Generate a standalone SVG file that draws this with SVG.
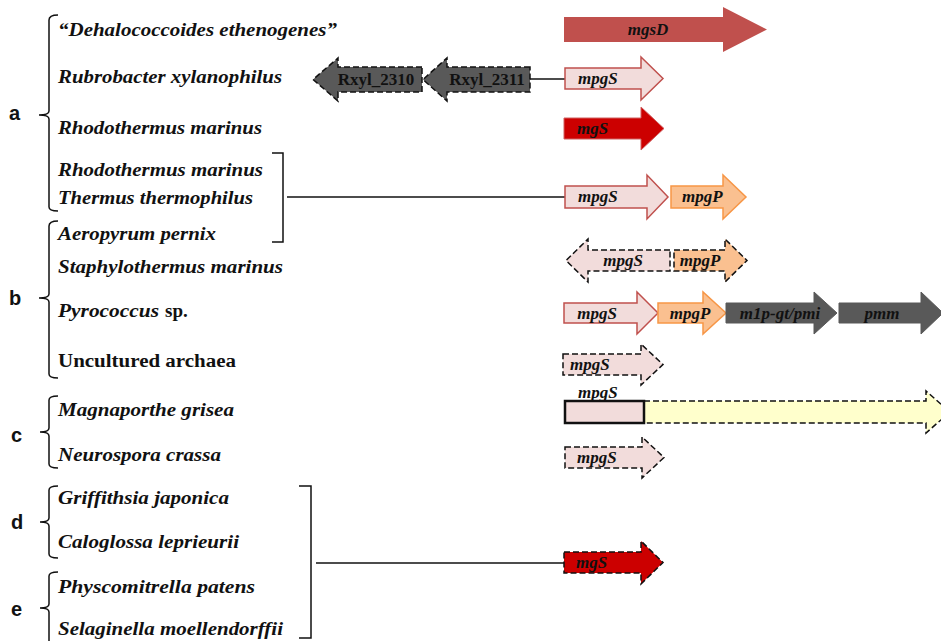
<svg xmlns="http://www.w3.org/2000/svg" width="941" height="641" viewBox="0 0 941 641">
<style>
.sp{font-family:"Liberation Serif",serif;font-weight:bold;font-style:italic;font-size:18px;fill:#111}
.up{font-style:normal}
.lt{font-family:"Liberation Sans",Arial,sans-serif;font-weight:bold;font-size:20px;fill:#111}
.gn{font-family:"Liberation Serif",serif;font-weight:bold;font-style:italic;font-size:17px;fill:#111}
.gr{font-family:"Liberation Serif",serif;font-weight:bold;font-size:17px;fill:#111}
.br{fill:none;stroke:#111;stroke-width:1.5}
.ln{stroke:#111;stroke-width:1.5}
.pink{fill:#f2dcdb;stroke:#c0504d;stroke-width:1.5}
.org{fill:#fac090;stroke:#f79646;stroke-width:1.5}
.dk{fill:#595959;stroke:#595959;stroke-width:1}
.dash{stroke:#111;stroke-width:1.5;stroke-dasharray:6 3}
</style>
<rect width="941" height="641" fill="#fff"/>
<g id="labels">
<text class="lt" x="9" y="120">a</text>
<text class="lt" x="9" y="305">b</text>
<text class="lt" x="11" y="442">c</text>
<text class="lt" x="11" y="529">d</text>
<text class="lt" x="11" y="616">e</text>
</g>
<g id="species">
<text class="sp" x="58" y="36" textLength="279" lengthAdjust="spacingAndGlyphs">“Dehalococcoides ethenogenes”</text>
<text class="sp" x="58" y="83" textLength="224" lengthAdjust="spacingAndGlyphs">Rubrobacter xylanophilus</text>
<text class="sp" x="58" y="134" textLength="204" lengthAdjust="spacingAndGlyphs">Rhodothermus marinus</text>
<text class="sp" x="58" y="176" textLength="205" lengthAdjust="spacingAndGlyphs">Rhodothermus marinus</text>
<text class="sp" x="58" y="204" textLength="195" lengthAdjust="spacingAndGlyphs">Thermus thermophilus</text>
<text class="sp" x="58" y="240" textLength="158" lengthAdjust="spacingAndGlyphs">Aeropyrum pernix</text>
<text class="sp" x="58" y="273" textLength="225" lengthAdjust="spacingAndGlyphs">Staphylothermus marinus</text>
<text class="sp" x="58" y="317"><tspan textLength="101" lengthAdjust="spacingAndGlyphs">Pyrococcus</tspan><tspan class="up" dx="6" font-size="19">sp.</tspan></text>
<text class="sp up" x="58" y="367" textLength="178" lengthAdjust="spacingAndGlyphs">Uncultured archaea</text>
<text class="sp" x="58" y="416" textLength="176" lengthAdjust="spacingAndGlyphs">Magnaporthe grisea</text>
<text class="sp" x="58" y="461" textLength="163" lengthAdjust="spacingAndGlyphs">Neurospora crassa</text>
<text class="sp" x="58" y="504" textLength="171" lengthAdjust="spacingAndGlyphs">Griffithsia japonica</text>
<text class="sp" x="58" y="548" textLength="181" lengthAdjust="spacingAndGlyphs">Caloglossa leprieurii</text>
<text class="sp" x="58" y="593" textLength="197" lengthAdjust="spacingAndGlyphs">Physcomitrella patens</text>
<text class="sp" x="58" y="635" textLength="225" lengthAdjust="spacingAndGlyphs">Selaginella moellendorffii</text>
</g>
<g id="brackets">
<path class="br" d="M58 15 Q49 15 49 20 L49 111 Q49 115 39 115 Q49 115 49 119 L49 207 Q49 211 58 211"/>
<path class="br" d="M58 221 Q49 221 49 226 L49 294 Q49 298 39 298 Q49 298 49 302 L49 374 Q49 378 58 378"/>
<path class="br" d="M58 396 Q49 396 49 400 L49 428 Q49 432 40 432 Q49 432 49 436 L49 464 Q49 468 58 468"/>
<path class="br" d="M58 486 Q49 486 49 490 L49 518 Q49 522 40 522 Q49 522 49 526 L49 554 Q49 558 58 558"/>
<path class="br" d="M58 572 Q49 572 49 576 L49 604 Q49 608 40 608 Q49 608 49 612 L49 641"/>
<path class="br" d="M272 153 L283 153 L283 242 L272 242"/>
<path class="br" d="M299 486 L311 486 L311 638 L299 638"/>
</g>
<g id="connectors">
<line class="ln" x1="530" y1="79" x2="565" y2="79"/>
<line class="ln" x1="287" y1="197" x2="565" y2="197"/>
<line class="ln" x1="316" y1="563" x2="564" y2="563"/>
</g>
<g id="gene-mgsD">
<path fill="#c0504d" d="M564 17 L723 17 L723 7 L767 29.5 L723 52 L723 42 L564 42 Z"/>
<text class="gn" x="648" y="35" text-anchor="middle">mgsD</text>
</g>
<g id="gene-rxyl2310">
<path class="dk dash" d="M422 67 L338 67 L338 58 L313 79.5 L338 101 L338 92 L422 92 Z"/>
<text class="gr" x="376" y="85" text-anchor="middle">Rxyl_2310</text>
</g>
<g id="gene-rxyl2311">
<path class="dk dash" d="M530 67 L447 67 L447 58 L423 79.5 L447 101 L447 92 L530 92 Z"/>
<text class="gr" x="487" y="85" text-anchor="middle">Rxyl_2311</text>
</g>
<g id="gene-rubro-mpgS">
<path class="pink" d="M565 68 L641 68 L641 57 L663 78.5 L641 100 L641 89 L565 89 Z"/>
<text class="gn" x="578" y="84">mpgS</text>
</g>
<g id="gene-rhodo-mgS">
<path fill="#cc0000" stroke="#d06060" stroke-width="1" d="M564 118 L641 118 L641 107 L664 128.5 L641 150 L641 139 L564 139 Z"/>
<text class="gn" x="577" y="134">mgS</text>
</g>
<g id="gene-r4-mpgS">
<path class="pink" d="M565 186 L647 186 L647 175 L668 197 L647 219 L647 208 L565 208 Z"/>
<text class="gn" x="578" y="202">mpgS</text>
</g>
<g id="gene-r4-mpgP">
<path class="org" d="M671 186 L723 186 L723 175 L746 197 L723 219 L723 208 L671 208 Z"/>
<text class="gn" x="682" y="202">mpgP</text>
</g>
<g id="gene-staph-mpgS">
<path fill="#f2dcdb" class="dash" d="M670 250 L588 250 L588 239 L566 260.5 L588 282 L588 271 L670 271 Z"/>
<text class="gn" x="623" y="266" text-anchor="middle">mpgS</text>
</g>
<g id="gene-staph-mpgP">
<path fill="#fac090" class="dash" d="M674 250 L725 250 L725 239 L747 260.5 L725 282 L725 271 L674 271 Z"/>
<text class="gn" x="700" y="266" text-anchor="middle">mpgP</text>
</g>
<g id="gene-pyro-mpgS">
<path class="pink" d="M564 303 L637 303 L637 292 L658 313 L637 334 L637 323 L564 323 Z"/>
<text class="gn" x="597" y="319" text-anchor="middle">mpgS</text>
</g>
<g id="gene-pyro-mpgP">
<path class="org" d="M658 303 L703 303 L703 292 L726 313 L703 334 L703 323 L658 323 Z"/>
<text class="gn" x="690" y="319" text-anchor="middle">mpgP</text>
</g>
<g id="gene-pyro-m1p">
<path class="dk" d="M726 303 L814 303 L814 292 L837 313 L814 334 L814 323 L726 323 Z"/>
<text class="gn" x="780" y="319" text-anchor="middle">m1p-gt/pmi</text>
</g>
<g id="gene-pyro-pmm">
<path class="dk" d="M839 303 L921 303 L921 292 L943 313 L921 334 L921 323 L839 323 Z"/>
<text class="gn" x="882" y="319" text-anchor="middle">pmm</text>
</g>
<g id="gene-unc-mpgS">
<path fill="#f2dcdb" class="dash" d="M563 354 L641 354 L641 344 L663 364.5 L641 385 L641 375 L563 375 Z"/>
<text class="gn" x="570" y="370">mpgS</text>
</g>
<g id="gene-magna-mpgS">
<text class="gn" x="578" y="398">mpgS</text>
<path fill="#ffffcc" class="dash" d="M644 401 L926 401 L926 391 L950 412 L926 433 L926 423 L644 423 Z"/>
<rect x="565" y="401" width="79" height="22" fill="#f2dcdb" stroke="#111" stroke-width="2.5"/>
</g>
<g id="gene-neuro-mpgS">
<path fill="#f2dcdb" class="dash" d="M565 447 L642 447 L642 437 L664 457.5 L642 478 L642 468 L565 468 Z"/>
<text class="gn" x="577" y="463">mpgS</text>
</g>
<g id="gene-de-mgS">
<path fill="#cc0000" class="dash" d="M564 552 L641 552 L641 541 L663 562.5 L641 584 L641 573 L564 573 Z"/>
<text class="gn" x="576" y="568">mgS</text>
</g>
</svg>
